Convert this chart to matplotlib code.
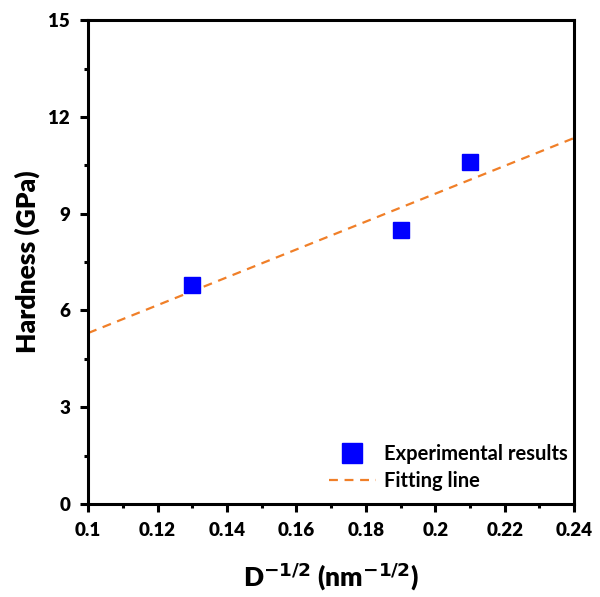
import matplotlib.pyplot as plt
from matplotlib.ticker import MultipleLocator

plt.rcParams['font.family'] = ['Lato', 'DejaVu Sans']
plt.rcParams['font.weight'] = 'bold'

# experimental data
x_exp = [0.13, 0.19, 0.21]
h_exp = [6.8, 8.5, 10.6]

# fitting line end points
x_fit = [0.1, 0.24]
h_fit = [5.3, 11.35]

fig = plt.figure(figsize=(6, 5.97), dpi=100)
ax = fig.add_axes([0.147, 0.156, 0.81, 0.81])

ax.plot(x_exp, h_exp, 's', color='#0000ff', ms=12, label='Experimental results', zorder=3)
ax.plot(x_fit, h_fit, '--', color='#f07f28', lw=1.6, dashes=(4, 3), label='Fitting line')

ax.set_xlim(0.1, 0.24)
ax.set_ylim(0, 15)
ax.xaxis.set_major_locator(MultipleLocator(0.02))
ax.xaxis.set_minor_locator(MultipleLocator(0.01))
ax.yaxis.set_major_locator(MultipleLocator(3))
ax.yaxis.set_minor_locator(MultipleLocator(1.5))
ax.xaxis.set_major_formatter(plt.FuncFormatter(lambda v, p: ('%.2f' % v).rstrip('0')))

ax.tick_params(which='major', direction='out', length=6, width=2.2, labelsize=13.5, pad=7)
ax.tick_params(which='minor', direction='out', length=3, width=2.2)
for s in ax.spines.values():
    s.set_linewidth(2.2)
for lab in ax.get_xticklabels() + ax.get_yticklabels():
    lab.set_fontweight('heavy')

ax.set_xlabel(r'D$^{\mathbf{-1/2}}$ (nm$^{\mathbf{-1/2}}$)', fontsize=19, fontweight='heavy', labelpad=16)
ax.set_ylabel('Hardness (GPa)', fontsize=19, fontweight='heavy', labelpad=6)

ax.legend(loc='lower right', bbox_to_anchor=(1.013, 0.0), frameon=False, fontsize=14.5,
          handlelength=2.3, handletextpad=0.4, markerscale=1.15,
          borderaxespad=0.25, labelspacing=0.35)

fig.savefig('out.png', dpi=100)
